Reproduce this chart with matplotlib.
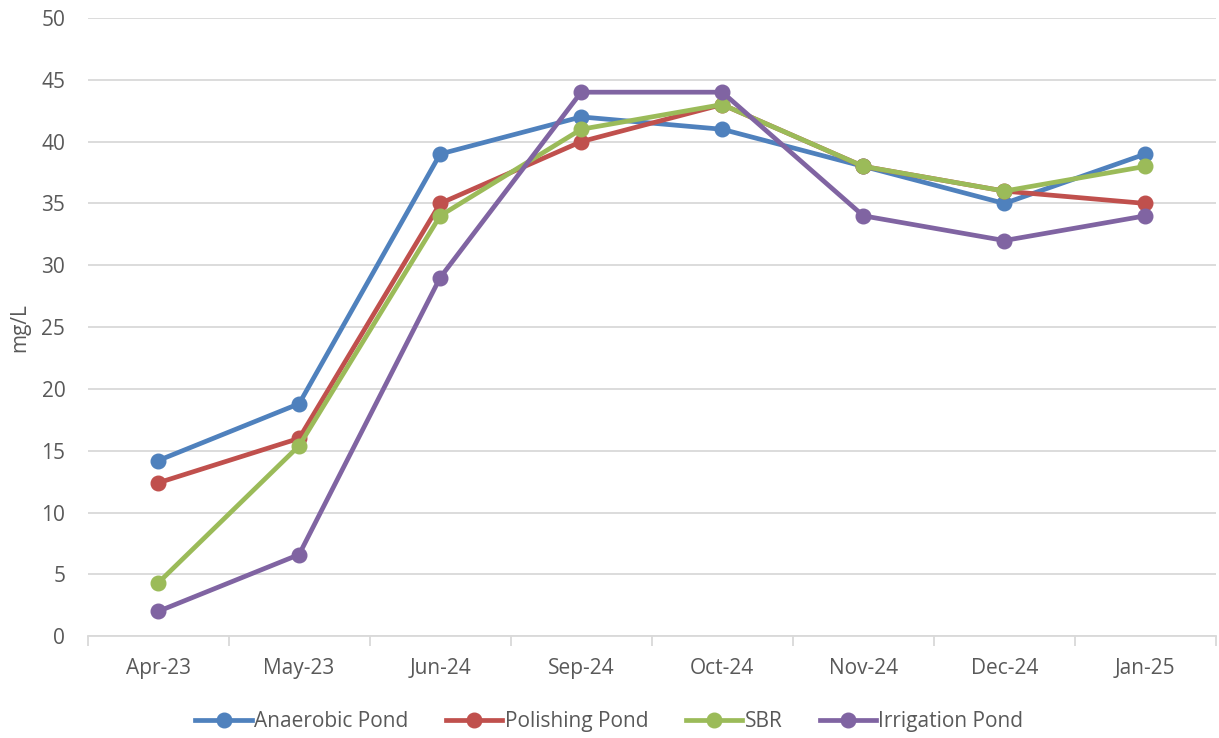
import matplotlib.pyplot as plt
from matplotlib.lines import Line2D

months = ['Apr-23', 'May-23', 'Jun-24', 'Sep-24', 'Oct-24', 'Nov-24', 'Dec-24', 'Jan-25']
anaerobic = [14.2, 18.8, 39, 42, 41, 38, 35, 39]
polishing = [12.4, 16, 35, 40, 43, 38, 36, 35]
sbr = [4.3, 15.4, 34, 41, 43, 38, 36, 38]
irrigation = [2.0, 6.6, 29, 44, 44, 34, 32, 34]

names = ['Anaerobic Pond', 'Polishing Pond', 'SBR', 'Irrigation Pond']
colors = ['#4F81BD', '#C0504D', '#9BBB59', '#8064A2']
series = [anaerobic, polishing, sbr, irrigation]

plt.rcParams['font.family'] = ['Open Sans', 'DejaVu Sans']
fig = plt.figure(figsize=(12.19, 7.38), dpi=100)
ax = fig.add_axes([0.0718, 0.138, 0.9257, 0.8376])

x = range(len(months))
for vals, c in zip(series, colors):
    ax.plot(x, vals, color=c, lw=3.4, marker='o', ms=10.5, solid_capstyle='round', zorder=3)

ax.set_xlim(-0.5, len(months) - 0.5)
ax.set_ylim(0, 50)
ax.set_yticks(range(0, 51, 5))
ax.set_xticks(list(x))
ax.set_xticklabels(months)
ax.set_xticks([i - 0.5 for i in range(len(months) + 1)], minor=True)
ax.tick_params(axis='x', which='major', length=0, pad=16, labelsize=15, colors='#595959')
ax.tick_params(axis='x', which='minor', length=7, width=1.3, color='#D9D9D9')
ax.tick_params(axis='y', length=0, pad=16, labelsize=15, colors='#595959')
ax.grid(axis='y', color='#D9D9D9', lw=1.3)
ax.set_axisbelow(True)
for s in ['top', 'right', 'left']:
    ax.spines[s].set_visible(False)
ax.spines['bottom'].set_color('#D9D9D9')
ax.spines['bottom'].set_linewidth(1.3)
ax.set_ylabel('mg/L', fontsize=15, color='#595959', labelpad=8)

handles = [Line2D([], [], color=c, lw=3.4, marker='o', ms=10.5) for c in colors]
fig.legend(handles, names, loc='center', bbox_to_anchor=(0.5, 0.022), ncol=4,
           frameon=False, handlelength=2.7, handletextpad=0.12, columnspacing=1.8,
           prop={'size': 15}, labelcolor='#595959')

fig.savefig('out.png', dpi=100)
